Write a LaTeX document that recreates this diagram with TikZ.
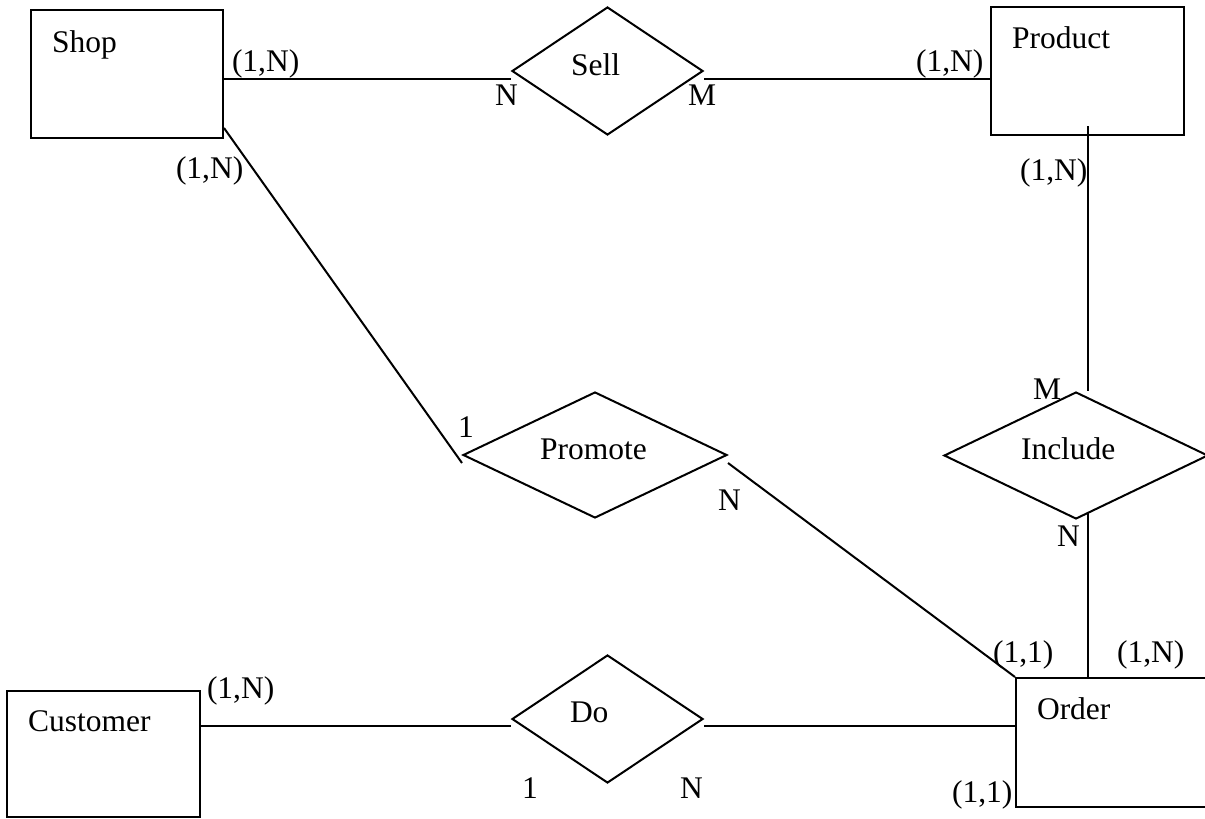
\documentclass[tikz,border=0pt]{standalone}
\usepackage{fontspec}
\setmainfont{Liberation Serif}
\usetikzlibrary{shapes.geometric}
\begin{document}
\begin{tikzpicture}[x=1pt,y=-1pt,
  every node/.style={font=\fontsize{31.5}{36}\selectfont},
  entity/.style={draw,line width=2pt,rectangle,inner sep=0pt},
  rel/.style={draw,line width=2pt,diamond,inner sep=0pt},
  lbl/.style={anchor=base west,inner sep=0pt,outer sep=0pt},
  conn/.style={line width=2pt}]
\useasboundingbox (0,0) rectangle (1205,819);
\clip (0,0) rectangle (1205,819);
% entities
\node[entity,minimum width=192pt,minimum height=128pt] (shop) at (127,74) {};
\node[entity,minimum width=193pt,minimum height=128pt] (product) at (1087.5,71) {};
\node[entity,minimum width=193pt,minimum height=126pt] (customer) at (103.5,754) {};
\node[entity,minimum width=193pt,minimum height=129pt] (order) at (1112.5,742.5) {};
% relationships
\node[rel,minimum width=191pt,minimum height=128pt] (sell) at (607.5,71) {};
\node[rel,minimum width=191pt,minimum height=128pt] (do) at (607.5,719) {};
\node[rel,minimum width=264pt,minimum height=126pt] (promote) at (595,455) {};
\node[rel,minimum width=264pt,minimum height=127pt] (include) at (1076,455.5) {};
% names
\node[lbl] (tshop) at (52,52) {Shop};
\node[lbl] (tproduct) at (1012,48) {Product};
\node[lbl] (tcustomer) at (28,731) {Customer};
\node[lbl] (torder) at (1037,719) {Order};
\node[lbl] (tsell) at (571,75) {Sell};
\node[lbl] (tdo) at (570,722) {Do};
\node[lbl] (tpromote) at (540,459) {Promote};
\node[lbl] (tinclude) at (1021,459) {Include};
% connectors
\draw[conn] (shop.east |- 0,79) -- (sell.west |- 0,79);
\draw[conn] (sell.east |- 0,79) -- (product.west |- 0,79);
\draw[conn] (shop.east |- 0,128) -- (promote.west |- 0,463);
\draw[conn] (promote.east |- 0,463) -- (order.north west);
\draw[conn] (product.south |- 0,126) -- (product.south |- include.north);
\draw[conn] (product.south |- 0,512) -- (product.south |- order.north);
\draw[conn] (customer.east |- 0,726) -- (do.west |- 0,726);
\draw[conn] (do.east |- 0,726) -- (order.west |- 0,726);
% cardinalities
\node[lbl] (c1) at (232,71) {(1,N)};
\node[lbl] (c2) at (176,178) {(1,N)};
\node[lbl] (c3) at (495,105) {N};
\node[lbl] (c4) at (688,105) {M};
\node[lbl] (c5) at (916,71) {(1,N)};
\node[lbl] (c6) at (1020,180) {(1,N)};
\node[lbl] (c7) at (1033,399) {M};
\node[lbl] (c8) at (1057,546) {N};
\node[lbl] (c9) at (458,437) {1};
\node[lbl] (c10) at (718,510) {N};
\node[lbl] (c11) at (993,662) {(1,1)};
\node[lbl] (c12) at (1117,662) {(1,N)};
\node[lbl] (c13) at (952,802) {(1,1)};
\node[lbl] (c14) at (207,698) {(1,N)};
\node[lbl] (c15) at (522,798) {1};
\node[lbl] (c16) at (680,798) {N};
\end{tikzpicture}
\end{document}
